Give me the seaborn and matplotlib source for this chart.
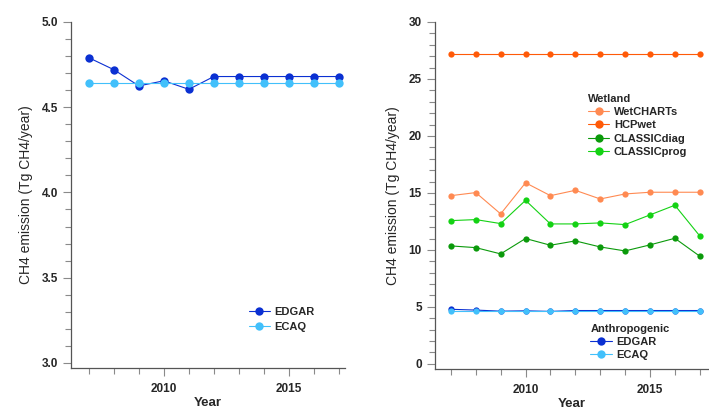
import matplotlib
matplotlib.use("Agg")
import matplotlib.pyplot as plt
import pandas as pd
import seaborn as sns
from matplotlib.ticker import MultipleLocator

# Data
years = list(range(2007, 2018))

edgar = [4.79, 4.72, 4.625, 4.655, 4.605, 4.68, 4.68, 4.68, 4.68, 4.68, 4.68]
ecaq = [4.64] * 11

wetcharts = [14.76, 15.03, 13.16, 15.89, 14.76, 15.23, 14.47, 14.91, 15.06, 15.06, 15.06]
hcpwet = [27.2] * 11
classic_diag = [10.35, 10.2, 9.65, 11.0, 10.41, 10.79, 10.26, 9.91, 10.44, 11.02, 9.45]
classic_prog = [12.57, 12.66, 12.31, 14.35, 12.28, 12.28, 12.37, 12.22, 13.07, 13.92, 11.23]

colors = {
    "EDGAR": "#0b30d2",
    "ECAQ": "#42c0fb",
    "WetCHARTs": "#ff8a52",
    "HCPwet": "#ff5a08",
    "CLASSICdiag": "#0b9a0b",
    "CLASSICprog": "#14d214",
}

anthro = pd.DataFrame({"year": years * 2,
                       "value": edgar + ecaq,
                       "source": ["EDGAR"] * 11 + ["ECAQ"] * 11})
wetland = pd.DataFrame({"year": years * 4,
                        "value": wetcharts + hcpwet + classic_diag + classic_prog,
                        "source": ["WetCHARTs"] * 11 + ["HCPwet"] * 11
                                  + ["CLASSICdiag"] * 11 + ["CLASSICprog"] * 11})

sns.set_style("ticks")
plt.rcParams["font.family"] = ["Liberation Sans", "DejaVu Sans"]

fig = plt.figure(figsize=(7.09, 4.11), dpi=100)
ax1 = fig.add_axes([0.1001, 0.1046, 0.386, 0.8419])
ax2 = fig.add_axes([0.6135, 0.1022, 0.385, 0.8443])


def style_axis(ax):
    for s in ["top", "right"]:
        ax.spines[s].set_visible(False)
    for s in ["left", "bottom"]:
        ax.spines[s].set_color("#555555")
        ax.spines[s].set_linewidth(0.9)
    ax.xaxis.set_major_locator(MultipleLocator(5))
    ax.xaxis.set_minor_locator(MultipleLocator(1))
    ax.tick_params(which="major", length=6, width=0.8, color="#8a8a8a", labelsize=8.5)
    ax.tick_params(axis="x", which="major", pad=5)
    ax.tick_params(which="minor", length=4, width=0.8, color="#8a8a8a")
    for lbl in ax.get_xticklabels() + ax.get_yticklabels():
        lbl.set_fontweight("bold")
    ax.set_xlabel("Year", fontsize=9.5, fontweight="bold", labelpad=1.5)
    ax.set_ylabel("CH4 emission (Tg CH4/year)", fontsize=10, labelpad=6)


# Left panel: anthropogenic only
sns.lineplot(data=anthro, x="year", y="value", hue="source",
             palette=[colors["EDGAR"], colors["ECAQ"]], marker="o",
             markersize=6, markeredgewidth=0, linewidth=0.8, ax=ax1, legend=False)
ax1.set_xlim(2006.28, 2017.24)
ax1.set_ylim(2.97, 5.0)
ax1.yaxis.set_major_locator(MultipleLocator(0.5))
ax1.yaxis.set_minor_locator(MultipleLocator(0.1))
ax1.yaxis.set_major_formatter(matplotlib.ticker.FormatStrFormatter("%.1f"))
style_axis(ax1)
h1 = ax1.get_lines()[:2]
ax1.legend(h1, ["EDGAR", "ECAQ"], loc="upper left", bbox_to_anchor=(0.343, 0.266),
           bbox_transform=fig.transFigure, frameon=False, borderpad=0,
           handlelength=1.9, handletextpad=0.4, labelspacing=0.4,
           prop={"size": 8, "weight": "bold"})

# Right panel: wetland + anthropogenic
sns.lineplot(data=wetland, x="year", y="value", hue="source",
             palette=[colors[k] for k in ["WetCHARTs", "HCPwet", "CLASSICdiag", "CLASSICprog"]],
             marker="o", markersize=4.5, markeredgewidth=0, linewidth=0.8, ax=ax2, legend=False)
sns.lineplot(data=anthro, x="year", y="value", hue="source",
             palette=[colors["EDGAR"], colors["ECAQ"]], marker="o",
             markersize=4.5, markeredgewidth=0, linewidth=0.8, ax=ax2, legend=False)
ax2.set_xlim(2006.36, 2017.33)
ax2.set_ylim(-0.45, 30)
ax2.yaxis.set_major_locator(MultipleLocator(5))
ax2.yaxis.set_minor_locator(MultipleLocator(1))
style_axis(ax2)

lines = ax2.get_lines()
leg_w = ax2.legend(lines[:4], ["WetCHARTs", "HCPwet", "CLASSICdiag", "CLASSICprog"],
                   title="Wetland", loc="upper left", bbox_to_anchor=(0.822, 0.785),
                   bbox_transform=fig.transFigure, frameon=False, borderpad=0,
                   handlelength=1.9, handletextpad=0.4, labelspacing=0.29,
                   alignment="left", prop={"size": 8, "weight": "bold"},
                   title_fontproperties={"size": 8, "weight": "bold"})
for h in leg_w.legend_handles:
    h.set_markersize(6)
ax2.add_artist(leg_w)
leg_a = ax2.legend(lines[4:6], ["EDGAR", "ECAQ"],
                   title="Anthropogenic", loc="upper left", bbox_to_anchor=(0.825, 0.226),
                   bbox_transform=fig.transFigure, frameon=False, borderpad=0,
                   handlelength=1.9, handletextpad=0.4, labelspacing=0.3,
                   alignment="left", prop={"size": 8, "weight": "bold"},
                   title_fontproperties={"size": 8, "weight": "bold"})
for h in leg_a.legend_handles:
    h.set_markersize(6)

fig.savefig("out.png", dpi=100)
